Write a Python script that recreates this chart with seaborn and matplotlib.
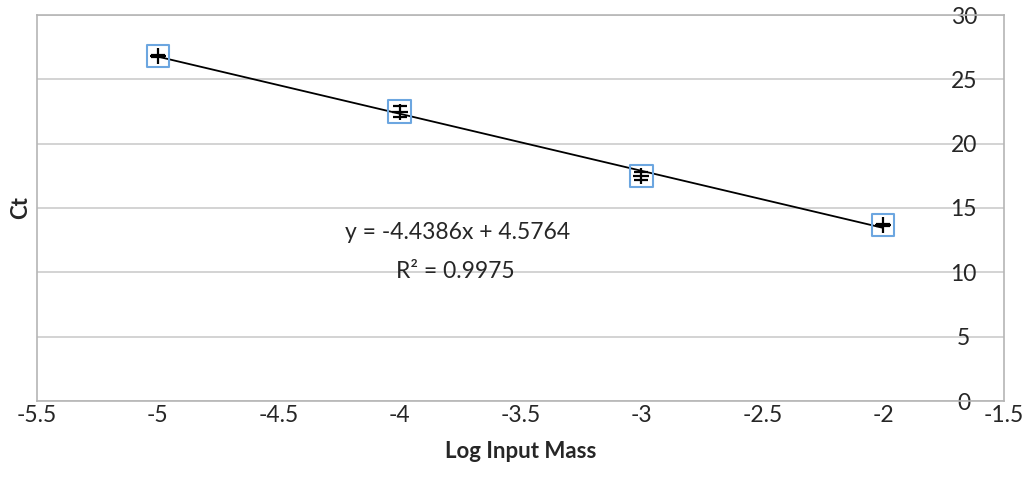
import numpy as np
import pandas as pd
import matplotlib
matplotlib.use("Agg")
import matplotlib.pyplot as plt
import seaborn as sns

# ---- data ----
log_mass = [-5, -4, -3, -2]
ct_mean = [26.79, 22.50, 17.47, 13.68]
ct_err = [0.08, 0.41, 0.31, 0.08]
x_ticks = [-5.5, -5, -4.5, -4, -3.5, -3, -2.5, -2, -1.5]
y_ticks = [0, 5, 10, 15, 20, 25, 30]
eq_text = "y = -4.4386x + 4.5764"
r2_text = "R² = 0.9975"
x_label = "Log Input Mass"
y_label = "Ct"

df = pd.DataFrame({"x": log_mass, "y": ct_mean, "err": ct_err})

sns.set_style("white")
plt.rcParams["font.family"] = ["Lato", "DejaVu Sans"]

fig = plt.figure(figsize=(10.27, 4.93), dpi=100)
ax = fig.add_axes([37 / 1027, 1 - 401 / 493, (1004 - 37) / 1027, (401 - 15) / 493])

# trendline
sns.regplot(data=df, x="x", y="y", ci=None, scatter=False, ax=ax,
            line_kws=dict(color="black", lw=1.3, zorder=3))

# open square markers
sns.scatterplot(data=df, x="x", y="y", ax=ax, marker="s", s=260,
                facecolor="none", edgecolor="#6CA6E0", linewidth=1.5, zorder=4)

# plus markers with error bars
ax.errorbar(df["x"], df["y"], yerr=df["err"], fmt="+", color="black",
            ms=11, mew=1.6, elinewidth=1.4, capsize=5, capthick=1.4, zorder=5)

ax.set_xlim(-5.5, -1.5)
ax.set_ylim(0, 30)
ax.set_xticks(x_ticks)
ax.set_xticklabels([f"{t:g}" for t in x_ticks])
ax.set_yticks(y_ticks)
ax.set_yticklabels([str(t) for t in y_ticks])

ax.grid(axis="y", color="#c8c8c8", lw=1.1)
ax.grid(axis="x", visible=False)
ax.set_axisbelow(True)
for sp in ax.spines.values():
    sp.set_color("#b5b5b5")
    sp.set_linewidth(1.2)

ax.tick_params(axis="x", length=0, pad=3, labelsize=16.5)
ax.tick_params(axis="y", left=False, labelleft=False, right=False,
               labelright=True, length=0, pad=-29, labelsize=16.5)
for lab in ax.get_yticklabels():
    lab.set_ha("center")

ax.set_xlabel(x_label, fontsize=16, fontweight="bold", labelpad=11)
ax.set_ylabel(y_label, fontsize=16, fontweight="bold", labelpad=4)

ax.text(-3.76, 13.13, eq_text, ha="center", va="center", fontsize=16.5)
ax.text(-3.77, 10.1, r2_text, ha="center", va="center", fontsize=16.5)

fig.savefig("out.png", dpi=100)
